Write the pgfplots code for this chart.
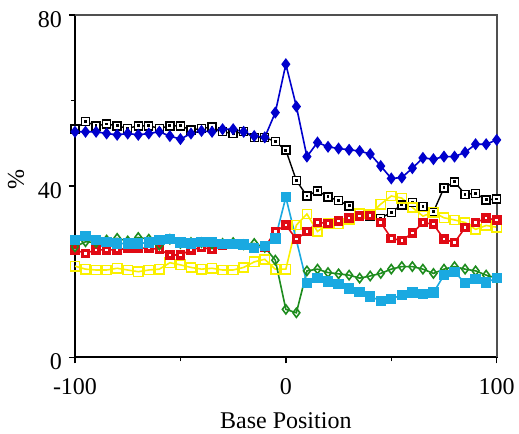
\documentclass[border=0pt]{standalone}
\usepackage{fontspec}
\setmainfont{Liberation Serif}
\usepackage{pgfplots}
\pgfplotsset{compat=1.18}
\definecolor{cblue}{HTML}{0000CC}
\definecolor{cred}{HTML}{E00A14}
\definecolor{ccyan}{HTML}{1AA9E1}
\definecolor{cgreen}{HTML}{1E8C1E}
\definecolor{cyell}{HTML}{FAF000}
\definecolor{cframe}{HTML}{505050}
\pgfdeclareplotmark{sqdotk}{%
  \pgfpathrectangle{\pgfqpoint{-\pgfplotmarksize}{-\pgfplotmarksize}}{\pgfqpoint{2\pgfplotmarksize}{2\pgfplotmarksize}}%
  \pgfusepathqfillstroke
  \begin{pgfscope}\pgfsetfillcolor{black}%
  \pgfpathrectangle{\pgfqpoint{-0.35\pgfplotmarksize}{-0.35\pgfplotmarksize}}{\pgfqpoint{0.7\pgfplotmarksize}{0.7\pgfplotmarksize}}%
  \pgfusepathqfill\end{pgfscope}}
\pgfdeclareplotmark{sqdotw}{%
  \pgfpathrectangle{\pgfqpoint{-\pgfplotmarksize}{-\pgfplotmarksize}}{\pgfqpoint{2\pgfplotmarksize}{2\pgfplotmarksize}}%
  \pgfusepathqfillstroke
  \begin{pgfscope}\pgfsetfillcolor{white}%
  \pgfpathrectangle{\pgfqpoint{-0.3\pgfplotmarksize}{-0.3\pgfplotmarksize}}{\pgfqpoint{0.6\pgfplotmarksize}{0.6\pgfplotmarksize}}%
  \pgfusepathqfill\end{pgfscope}}
\begin{document}
\begin{tikzpicture}
\begin{axis}[
  scale only axis, width=210.85pt, height=171.15pt,
  xmin=-100, xmax=100, ymin=0, ymax=80,
  clip=false,
  axis line style={line width=0.8pt},
  tick pos=left, tick align=outside,
  major tick length=3pt, minor tick length=2pt,
  tick style={line width=0.7pt, black},
  xtick={-100,0,100}, minor xtick={-50,50},
  ytick={0,40,80}, minor ytick={20,60},
  font=\fontsize{12}{14}\selectfont,
  /pgf/number format/assume math mode=true,
  xticklabel style={anchor=base, yshift=-15.5pt},
  yticklabel style={anchor=east, yshift=-2.2pt},
  xlabel={Base Position}, ylabel={\%},
  xlabel style={at={(axis description cs:0.5,-0.185)}, anchor=center},
  ylabel style={at={(axis description cs:-0.14,0.52)}, anchor=center},
]
\addplot[black, line width=0.7pt, mark=sqdotk, mark size=2pt, mark options={fill=white, line width=0.7pt}] coordinates {
(-100,53.4)(-95,55.1)(-90,54.1)(-85,54.5)(-80,54.1)(-75,53.5)(-70,54.1)(-65,54.1)(-60,53.5)(-55,54.1)(-50,54.1)(-45,53.1)(-40,53.5)(-35,53.8)(-30,52.7)(-25,52.3)(-20,52.7)(-15,51.4)(-10,51.4)(-5,50.4)(0,48.4)(5,41.3)(10,37.7)(15,38.9)(20,37.5)(25,36.6)(30,35.4)(35,33.6)(40,32.9)(45,32.5)(50,33.9)(55,35.6)(60,36.2)(65,35.2)(70,34.0)(75,39.6)(80,41.0)(85,38.1)(90,38.3)(95,36.8)(100,37.0)};
\addplot[cyell, line width=0.8pt, mark=square, mark size=2.3pt, mark options={fill=white, line width=0.8pt}] coordinates {
(-100,21.3)(-95,20.6)(-90,20.4)(-85,20.4)(-80,20.8)(-75,20.4)(-70,20.0)(-65,20.4)(-60,20.6)(-55,22.1)(-50,21.6)(-45,21.0)(-40,20.6)(-35,20.8)(-30,20.4)(-25,20.4)(-20,21.0)(-15,22.3)(-10,22.9)(-5,20.6)(0,20.6)(5,30.9)(10,33.5)(15,29.4)(20,31.2)(25,31.2)(30,32.2)(35,33.6)(40,33.4)(45,35.8)(50,37.7)(55,37.2)(60,35.0)(65,33.0)(70,33.9)(75,32.6)(80,32.1)(85,31.5)(90,29.9)(95,30.8)(100,30.4)};
\addplot[cred, line width=0.8pt, mark=sqdotw, mark size=2.1pt, mark options={fill=cred, line width=0.6pt}] coordinates {
(-100,25.1)(-95,24.3)(-90,25.1)(-85,25.1)(-80,25.1)(-75,25.5)(-70,25.5)(-65,25.5)(-60,25.2)(-55,23.9)(-50,23.9)(-45,25.1)(-40,25.7)(-35,25.2)(-30,26.2)(-25,26.5)(-20,26.2)(-15,25.7)(-10,25.7)(-5,29.4)(0,30.9)(5,27.6)(10,29.4)(15,31.5)(20,31.3)(25,31.9)(30,32.5)(35,33.0)(40,33.1)(45,31.5)(50,27.8)(55,27.3)(60,29.0)(65,31.5)(70,31.1)(75,27.6)(80,26.8)(85,30.3)(90,31.5)(95,32.5)(100,32.1)};
\addplot[cgreen, line width=0.8pt, mark=diamond, mark size=2.3pt, mark options={fill=white, line width=0.8pt}] coordinates {
(-100,25.8)(-95,27.0)(-90,26.8)(-85,27.4)(-80,27.8)(-75,27.2)(-70,28.0)(-65,27.6)(-60,26.2)(-55,27.6)(-50,26.6)(-45,26.8)(-40,26.8)(-35,26.5)(-30,26.6)(-25,26.8)(-20,26.3)(-15,26.6)(-10,25.7)(-5,22.7)(0,11.2)(5,10.4)(10,20.2)(15,20.6)(20,19.8)(25,19.5)(30,19.2)(35,18.5)(40,19.0)(45,19.6)(50,20.6)(55,21.2)(60,21.2)(65,20.6)(70,19.6)(75,20.6)(80,21.2)(85,20.6)(90,20.2)(95,19.2)(100,18.5)};
\addplot[ccyan, line width=0.8pt, mark=square*, mark size=2.2pt, mark options={fill=ccyan}] coordinates {
(-100,27.4)(-95,28.3)(-90,27.4)(-85,27.0)(-80,26.6)(-75,26.6)(-70,26.6)(-65,26.8)(-60,27.4)(-55,27.6)(-50,26.8)(-45,26.6)(-40,27.0)(-35,27.0)(-30,26.5)(-25,26.5)(-20,26.4)(-15,25.5)(-10,26.0)(-5,27.8)(0,37.4)(10,17.3)(15,18.5)(20,17.7)(25,17.1)(30,16.1)(35,15.3)(40,14.2)(45,13.2)(50,13.6)(55,14.6)(60,15.1)(65,14.8)(70,15.1)(75,19.2)(80,20.0)(85,17.3)(90,18.3)(95,17.5)(100,18.5)};
\addplot[cblue, line width=0.8pt, mark=diamond*, mark size=2.4pt, mark options={fill=cblue}] coordinates {
(-100,52.7)(-95,52.7)(-90,52.7)(-85,52.3)(-80,52.0)(-75,52.3)(-70,52.0)(-65,52.3)(-60,52.7)(-55,51.7)(-50,51.0)(-45,52.3)(-40,52.9)(-35,52.7)(-30,53.3)(-25,53.3)(-20,52.7)(-15,51.7)(-10,51.4)(-5,57.2)(0,68.5)(5,58.6)(10,46.9)(15,50.2)(20,49.2)(25,48.8)(30,48.5)(35,48.2)(40,47.5)(45,44.7)(50,41.8)(55,42.0)(60,44.2)(65,46.6)(70,46.3)(75,46.9)(80,46.9)(85,47.9)(90,49.8)(95,49.8)(100,50.8)};
\draw[cframe, line width=1.1pt] (rel axis cs:0,1) -- (rel axis cs:1,1) -- (rel axis cs:1,0);
\coordinate (O) at (rel axis cs:0,0);
\coordinate (T) at (rel axis cs:1,1);
\end{axis}
\pgfresetboundingbox
\path ([shift={(-37.5pt,-38.35pt)}]O) rectangle ([shift={(11.15pt,7.5pt)}]T);
\end{tikzpicture}
\end{document}
